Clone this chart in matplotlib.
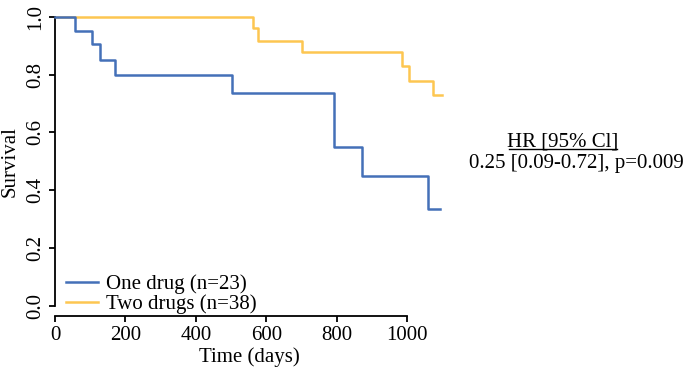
import matplotlib
matplotlib.use("Agg")
import matplotlib.pyplot as plt
from matplotlib.lines import Line2D

# Kaplan-Meier steps
one_time = [0, 57, 105, 128, 170, 503, 793, 872, 1060, 1094]
one_surv = [1.0, 0.95, 0.905, 0.852, 0.80, 0.735, 0.55, 0.45, 0.335, 0.335]
two_time = [0, 562, 577, 702, 986, 1006, 1074, 1099]
two_surv = [1.0, 0.963, 0.917, 0.88, 0.83, 0.778, 0.728, 0.728]

x_ticks = [0, 200, 400, 600, 800, 1000]
y_ticks = [0.0, 0.2, 0.4, 0.6, 0.8, 1.0]
labels = ["One drug (n=23)", "Two drugs (n=38)"]

BLUE = "#4470B8"
GOLD = "#FDC651"
FONT = ["Liberation Serif", "DejaVu Serif"]
FS = 15

plt.rcParams["font.family"] = FONT

W, H = 685, 367
fig = plt.figure(figsize=(W / 100, H / 100), dpi=100)

# pixel mapping of the reference: x0 px, px per day, y0 px (survival 0), px per unit
X0, XS = 55.0, 0.352
Y0, YS = 306.0, 289.2
L, R, T, B = 40, 450, 8, 322

ax = fig.add_axes([L / W, 1 - B / H, (R - L) / W, (B - T) / H])
ax.set_xlim((L - X0) / XS, (R - X0) / XS)
ax.set_ylim((Y0 - B) / YS, (Y0 - T) / YS)
ax.patch.set_alpha(0)

ax.step(two_time, two_surv, where="post", color=GOLD, lw=1.8, zorder=2)
ax.step(one_time, one_surv, where="post", color=BLUE, lw=1.8, zorder=3)

for s in ("top", "right"):
    ax.spines[s].set_visible(False)
ax.spines["left"].set_position(("data", 0))
ax.spines["left"].set_bounds(0, 1)
ax.spines["bottom"].set_position(("data", (Y0 - 316) / YS))
ax.spines["bottom"].set_bounds(0, 1000)
for s in ("left", "bottom"):
    ax.spines[s].set_linewidth(1.3)

ax.set_xticks(x_ticks)
ax.set_yticks(y_ticks)
ax.set_yticklabels([f"{v:.1f}" for v in y_ticks])
ax.tick_params(direction="out", length=4.6, width=1.3, labelsize=FS, pad=2.5)
for lab in ax.get_yticklabels():
    lab.set_rotation(90)
    lab.set_va("center")

handles = [Line2D([], [], color=BLUE, lw=1.8), Line2D([], [], color=GOLD, lw=1.8)]
ax.legend(handles, labels, loc="lower left", bbox_to_anchor=(66 / W, 1 - 314 / H),
          bbox_transform=fig.transFigure, frameon=False, fontsize=FS,
          handlelength=1.55, handletextpad=0.35, labelspacing=0.0,
          borderpad=0, borderaxespad=0)

fig.text(249 / W, 1 - 362 / H, "Time (days)", ha="center", va="baseline", fontsize=FS)
fig.text(10 / W, 1 - 162 / H, "Survival", ha="center", va="center",
         rotation=90, fontsize=FS)

fig.text(563 / W, 1 - 146 / H, "HR [95% Cl]", ha="center", va="baseline", fontsize=FS)
fig.add_artist(Line2D([509 / W, 617 / W], [1 - 148.5 / H, 1 - 148.5 / H],
                      color="black", lw=1.0, transform=fig.transFigure))
fig.text(576 / W, 1 - 168 / H, "0.25 [0.09-0.72], p=0.009", ha="center",
         va="baseline", fontsize=FS)

fig.savefig("out.png", dpi=100, facecolor="white")
